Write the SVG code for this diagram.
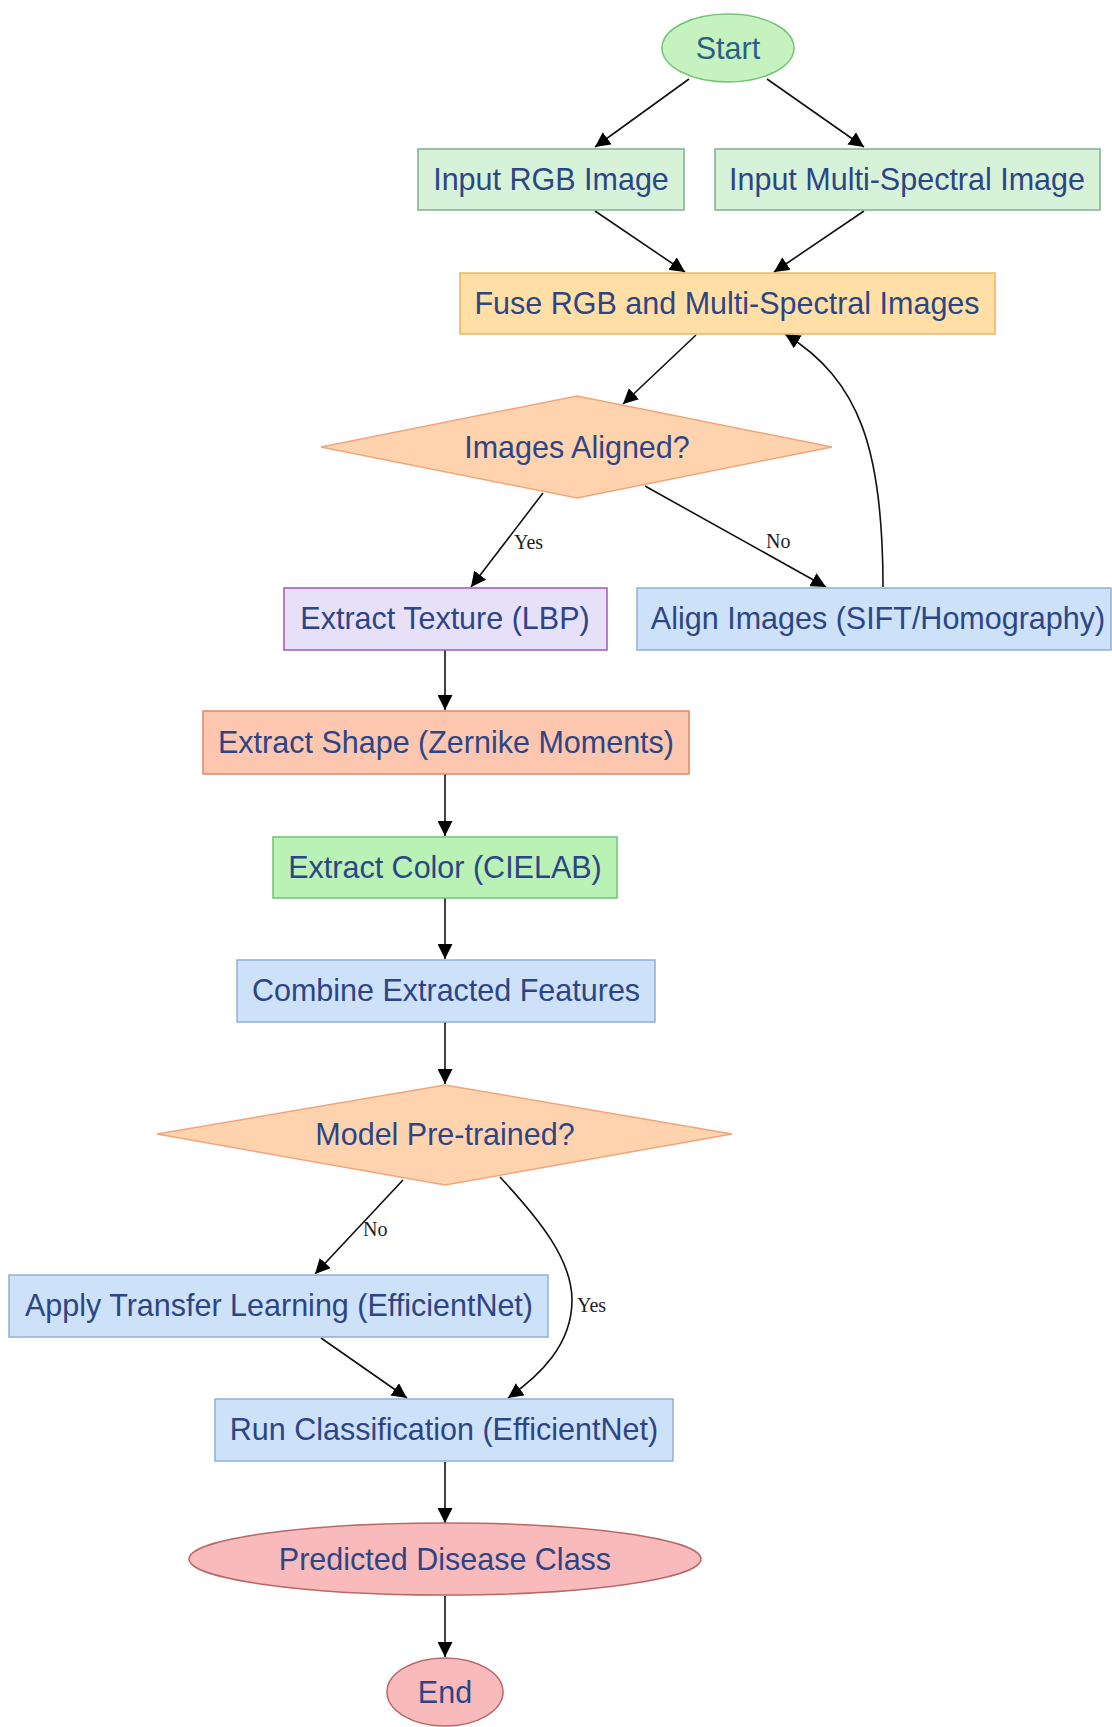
<svg xmlns="http://www.w3.org/2000/svg" width="1112" height="1727" viewBox="0 0 1112 1727">
<defs>
<marker id="arr" viewBox="0 0 10 10" refX="10" refY="5" markerWidth="15" markerHeight="15" markerUnits="userSpaceOnUse" orient="auto">
<path d="M0,0 L10,5 L0,10 z" fill="#000"/>
</marker>
<style>
.lbl{font-family:"Liberation Sans",Arial,sans-serif;font-size:30.5px;fill:#2d4585;text-anchor:middle;dominant-baseline:central}
.el{font-family:"Liberation Serif","Times New Roman",serif;font-size:20px;fill:#222;}
.edge{fill:none;stroke:#111;stroke-width:1.6;marker-end:url(#arr)}
.blue{fill:#cde1f8;stroke:#8eb0d6;stroke-width:1.5}
.gin{fill:#d6f2d8;stroke:#7fb08f;stroke-width:1.5}
.dia{fill:#ffd3ad;stroke:#f0a57a;stroke-width:1.5}
.red{fill:#f8baba;stroke:#b86868;stroke-width:1.5}
</style>
</defs>
<rect width="1112" height="1727" fill="#fff"/>
<g id="connectors">
<path class="edge" d="M689,79 L595,147"/>
<path class="edge" d="M767,79 L864,147"/>
<path class="edge" d="M595,211 L685,272"/>
<path class="edge" d="M864,211 L774,272"/>
<path class="edge" d="M696,335 L623,404"/>
<path class="edge" d="M883,587 C883,450 860,380 785,334"/>
<path class="edge" d="M543,493 L471,587"/>
<path class="edge" d="M645,486 L826,587"/>
<path class="edge" d="M445,650 L445,710"/>
<path class="edge" d="M445,774 L445,836"/>
<path class="edge" d="M445,898 L445,959"/>
<path class="edge" d="M445,1022 L445,1084"/>
<path class="edge" d="M403,1180 L315,1274"/>
<path class="edge" d="M500,1177 C540,1220 572,1260 572,1300 C572,1345 540,1375 508,1398"/>
<path class="edge" d="M321,1338 L407,1398"/>
<path class="edge" d="M445,1462 L445,1523"/>
<path class="edge" d="M445,1596 L445,1657"/>
<text class="el" x="514" y="549">Yes</text>
<text class="el" x="766" y="548">No</text>
<text class="el" x="363" y="1236">No</text>
<text class="el" x="577" y="1312">Yes</text>
</g>
<g id="start"><ellipse cx="728" cy="48" rx="66" ry="34" fill="#c6f2c0" stroke="#74c474" stroke-width="1.5"/><text class="lbl" x="728" y="48" style="fill:#2b5f85">Start</text></g>
<g id="input_rgb"><rect class="gin" x="418" y="149" width="266" height="61"/><text class="lbl" x="551" y="179">Input RGB Image</text></g>
<g id="input_ms"><rect class="gin" x="715" y="149" width="385" height="61"/><text class="lbl" x="907" y="179">Input Multi-Spectral Image</text></g>
<g id="fuse"><rect x="460" y="273" width="535" height="61" fill="#ffdfa6" stroke="#f0b45c" stroke-width="1.5"/><text class="lbl" x="727" y="303">Fuse RGB and Multi-Spectral Images</text></g>
<g id="aligned"><polygon class="dia" points="321,447 577,396 832,447 577,498"/><text class="lbl" x="577" y="447">Images Aligned?</text></g>
<g id="texture"><rect x="284" y="588" width="323" height="62" fill="#e6e0f8" stroke="#a457b4" stroke-width="1.5"/><text class="lbl" x="445" y="618">Extract Texture (LBP)</text></g>
<g id="align"><rect class="blue" x="637" y="588" width="474" height="62"/><text class="lbl" x="878" y="618">Align Images (SIFT/Homography)</text></g>
<g id="shape"><rect x="203" y="711" width="486" height="63" fill="#fcc7ae" stroke="#e4845f" stroke-width="1.5"/><text class="lbl" x="446" y="742">Extract Shape (Zernike Moments)</text></g>
<g id="color"><rect x="273" y="837" width="344" height="61" fill="#b9f2b4" stroke="#72c46e" stroke-width="1.5"/><text class="lbl" x="445" y="867">Extract Color (CIELAB)</text></g>
<g id="combine"><rect class="blue" x="237" y="960" width="418" height="62"/><text class="lbl" x="446" y="990">Combine Extracted Features</text></g>
<g id="pretrained"><polygon class="dia" points="157,1134 445,1085 732,1134 445,1185"/><text class="lbl" x="445" y="1134">Model Pre-trained?</text></g>
<g id="transfer"><rect class="blue" x="9" y="1275" width="539" height="62"/><text class="lbl" x="279" y="1305">Apply Transfer Learning (EfficientNet)</text></g>
<g id="classify"><rect class="blue" x="215" y="1399" width="458" height="62"/><text class="lbl" x="444" y="1429">Run Classification (EfficientNet)</text></g>
<g id="predicted"><ellipse class="red" cx="445" cy="1559" rx="256" ry="36"/><text class="lbl" x="445" y="1559">Predicted Disease Class</text></g>
<g id="end"><ellipse class="red" cx="445" cy="1692" rx="58" ry="34"/><text class="lbl" x="445" y="1692">End</text></g>
</svg>
